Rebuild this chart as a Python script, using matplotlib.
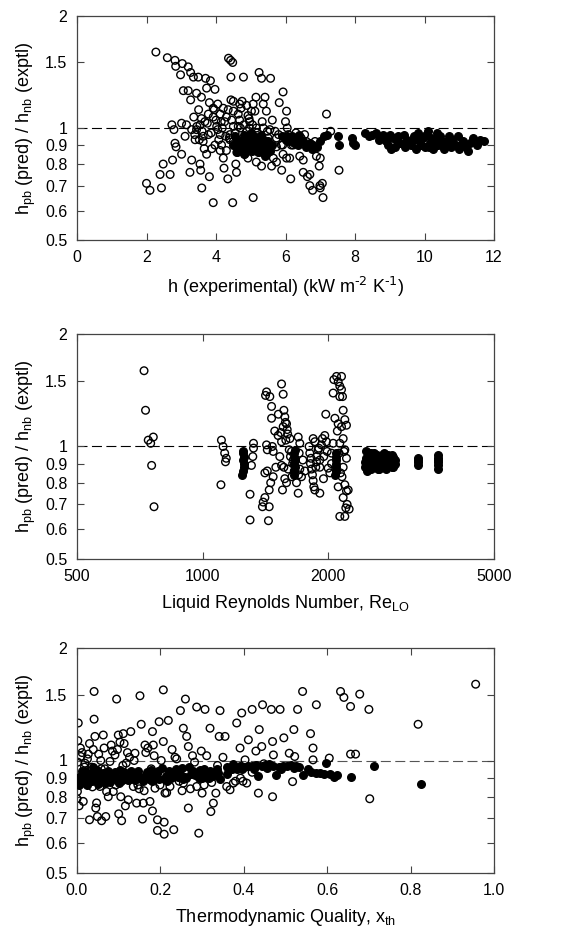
import matplotlib
matplotlib.use("Agg")
import matplotlib.pyplot as plt
from matplotlib.ticker import FixedLocator, FixedFormatter, NullLocator

plt.rcParams['font.family'] = ['Liberation Sans', 'DejaVu Sans']
plt.rcParams['mathtext.default'] = 'regular'

# ---------------- Panel 1: h (experimental) ----------------
p1_open_x = [2.27, 2.60, 2.82, 2.84, 3.03, 3.20, 3.27, 3.35, 3.49, 2.98, 3.70, 3.84, 3.73, 3.97,
             3.06, 3.20, 3.44, 3.58, 3.27, 3.81, 4.05, 3.50, 3.36, 3.58, 3.01, 2.73, 2.79, 3.11,
             3.39, 3.63, 2.82, 2.85, 3.01, 2.75, 2.48, 2.39, 2.68, 2.00, 2.10, 2.43, 3.30, 3.25,
             3.54, 3.56, 3.59, 3.73, 3.81, 3.92, 4.23, 4.34, 4.48, 4.57, 4.59, 4.36, 4.42, 4.48,
             4.43, 4.79, 4.43, 4.75, 5.24, 5.31, 5.57, 5.15, 5.41, 5.07, 5.36, 5.12, 5.45, 5.93,
             5.82, 6.03, 5.62, 6.00, 6.05, 6.08, 5.92, 6.17, 6.15, 6.51, 6.70, 6.63, 6.70, 6.78,
             6.99, 7.06, 7.00, 7.08, 6.97, 7.00, 6.89, 7.18, 7.30, 7.54, 5.07, 4.88, 4.02, 4.12,
             4.16, 4.12, 4.21, 3.97, 3.78, 3.92, 4.30, 4.50, 4.64, 4.68, 4.92, 4.97, 4.83, 4.92,
             5.16, 5.31, 5.60, 5.74, 5.89, 5.65, 5.93, 6.12, 6.41, 6.51, 6.41, 6.55, 4.50, 4.40,
             4.50, 3.63, 3.44, 3.54, 3.68, 3.78, 4.12, 3.92, 4.21, 4.35, 5.36, 5.55, 5.74, 5.74,
             5.45, 5.16, 5.07, 4.64, 4.30, 5.88, 6.03, 6.22, 4.64, 4.50, 4.88, 5.02, 4.68, 3.30,
             3.40, 3.88, 4.05, 4.25, 4.38, 4.60, 4.80, 5.00, 5.25, 5.50, 5.70, 4.95, 5.20, 3.15,
             3.45, 3.60, 3.75, 3.86, 4.00, 4.08, 4.18, 4.28, 4.45, 4.55, 4.70, 4.85, 5.05, 5.18,
             5.33, 5.48, 5.80, 6.30, 6.45, 6.60, 6.85, 3.52, 3.66, 3.95, 4.15, 4.40, 4.72, 4.96]
p1_open_y = [1.60, 1.545, 1.52, 1.465, 1.49, 1.46, 1.41, 1.37, 1.37, 1.39, 1.36, 1.34, 1.28, 1.27,
             1.26, 1.26, 1.24, 1.21, 1.19, 1.17, 1.16, 1.12, 1.07, 1.06, 1.03, 1.02, 0.99, 0.95,
             0.96, 0.95, 0.91, 0.89, 0.85, 0.82, 0.80, 0.75, 0.75, 0.71, 0.68, 0.69, 0.82, 0.76,
             0.80, 0.77, 0.69, 0.85, 0.74, 0.63, 0.78, 0.73, 0.63, 0.80, 0.76, 1.54, 1.52, 1.50,
             1.37, 1.37, 1.19, 1.18, 1.41, 1.36, 1.36, 1.21, 1.21, 1.16, 1.16, 1.11, 1.11, 1.25,
             1.17, 1.11, 1.05, 1.04, 1.00, 0.96, 0.90, 0.90, 0.73, 0.76, 0.75, 0.74, 0.70, 0.68,
             0.70, 0.71, 0.69, 0.65, 0.79, 0.83, 0.84, 1.09, 0.98, 0.77, 0.65, 0.98, 1.01, 0.96,
             0.90, 0.87, 0.83, 0.90, 0.96, 1.07, 1.07, 1.11, 1.09, 1.05, 1.08, 1.04, 0.85, 0.83,
             0.81, 0.79, 0.79, 0.81, 0.77, 0.83, 0.85, 0.83, 0.84, 0.82, 0.92, 0.96, 1.01, 0.96,
             0.92, 0.92, 0.99, 1.02, 1.04, 1.09, 1.09, 1.13, 1.13, 1.12, 1.00, 0.99, 0.94, 0.89,
             0.89, 1.00, 0.94, 0.89, 0.87, 0.90, 0.83, 0.90, 1.01, 1.18, 1.15, 1.11, 1.16, 0.99,
             0.93, 0.88, 0.99, 1.04, 0.94, 0.86, 1.02, 0.92, 0.86, 0.94, 0.98, 1.06, 0.87, 1.02,
             1.01, 0.98, 1.03, 0.97, 1.05, 0.93, 1.00, 0.95, 1.05, 0.97, 1.00, 0.95, 1.02, 0.97,
             1.04, 0.98, 0.96, 0.97, 0.94, 0.92, 0.92, 0.93, 0.88, 1.12, 1.04, 0.93, 1.13, 1.00]
p1_fill_x = [4.55, 4.60, 4.65, 4.70, 4.75, 4.80, 4.85, 4.90, 4.95, 5.00, 5.05, 5.10, 5.15, 5.20,
             5.25, 5.30, 5.35, 5.40, 5.45, 5.50, 5.55, 5.60, 4.50, 4.60, 4.80, 5.00, 5.30, 5.90,
             6.00, 6.10, 6.20, 6.30, 6.35, 6.40, 6.50, 6.70, 6.75, 6.80, 6.90, 7.00, 7.10, 7.20,
             7.50, 7.55, 7.90, 7.95, 8.00, 8.30, 8.40, 8.60, 8.70, 8.80, 8.90, 8.95, 9.00, 9.10,
             9.15, 9.20, 9.30, 9.40, 9.45, 9.50, 9.60, 9.70, 9.75, 9.80, 9.85, 9.90, 9.95, 10.00,
             10.05, 10.10, 10.15, 10.20, 10.25, 10.30, 10.40, 10.45, 10.50, 10.55, 10.60, 10.70,
             10.75, 10.80, 10.90, 10.95, 11.00, 11.10, 11.20, 11.25, 11.30, 11.40, 11.50, 11.60,
             11.70, 9.65, 10.35, 9.25, 8.50, 9.05, 5.40, 5.10, 4.70, 6.15, 6.60,
             4.88, 5.22, 5.38, 5.48, 4.58, 4.98, 6.05, 6.25, 9.55, 9.88, 10.12, 10.65, 11.05]
p1_fill_y = [0.95, 0.92, 0.90, 0.88, 0.93, 0.96, 0.91, 0.89, 0.94, 0.92, 0.87, 0.95, 0.90, 0.93,
             0.88, 0.91, 0.86, 0.89, 0.85, 0.92, 0.87, 0.90, 0.90, 0.86, 0.85, 0.97, 0.96, 0.95,
             0.93, 0.92, 0.95, 0.93, 0.90, 0.96, 0.92, 0.91, 0.88, 0.90, 0.89, 0.92, 0.95, 0.96,
             0.95, 0.90, 0.94, 0.91, 0.90, 0.97, 0.95, 0.97, 0.93, 0.96, 0.92, 0.90, 0.96, 0.94,
             0.89, 0.92, 0.91, 0.96, 0.89, 0.93, 0.90, 0.95, 0.88, 0.97, 0.92, 0.90, 0.94, 0.89,
             0.96, 0.98, 0.91, 0.94, 0.88, 0.93, 0.90, 0.95, 0.92, 0.88, 0.91, 0.95, 0.89, 0.93,
             0.90, 0.95, 0.88, 0.92, 0.89, 0.87, 0.91, 0.94, 0.90, 0.93, 0.92, 0.92, 0.97, 0.95,
             0.96, 0.88, 0.84, 0.88, 0.91, 0.94, 0.89,
             0.87, 0.86, 0.93, 0.88, 0.91, 0.90, 0.95, 0.91, 0.91, 0.93, 0.89, 0.92, 0.90]

# ---------------- Panel 2: Liquid Reynolds number ----------------
p2_open_x = [724, 730, 741, 751, 762, 755, 765, 1107, 1110, 1120, 1130, 1135, 1140, 1300, 1300,
             1310, 1320, 1325, 1325, 1416, 1424, 1450, 1464, 1464, 1424, 1430, 1477, 1411, 1457,
             1445, 1398, 1392, 1411, 1445, 1439, 1477, 1499, 1532, 1547, 1518, 1547, 1561, 1547,
             1561, 1567, 1575, 1590, 1596, 1584, 1567, 1575, 1555, 1590, 1605, 1614, 1620, 1635,
             1650, 1638, 1680, 1696, 1696, 1711, 1705, 1711, 1727, 1801, 1808, 1815, 1825, 1835,
             1842, 1849, 1859, 1842, 1893, 1911, 1911, 1911, 1928, 1939, 1953, 1964, 1982, 1990,
             2001, 2020, 1869, 1876, 2057, 2065, 2096, 2115, 2134, 2154, 2154, 2134, 2166, 2174,
             2077, 2115, 2154, 2194, 2214, 2174, 2134, 2194, 2214, 2174, 2142, 2115, 2134, 2194,
             2174, 2194, 2214, 2235, 2247, 2222, 2206, 2038, 2038, 2057, 1490, 1520, 1600, 1660,
             1740, 1760, 1880, 1950, 1430, 1470, 1540, 1580, 1625, 1645, 1700, 1820, 1860, 1900,
             1975, 2105, 2125, 2160, 2185]
p2_open_y = [1.595, 1.25, 1.04, 1.02, 1.06, 0.89, 0.69, 0.79, 1.04, 1.00, 0.96, 0.91, 0.93, 0.745,
             0.636, 0.89, 0.94, 0.99, 1.02, 1.37, 1.40, 1.36, 1.28, 1.19, 1.01, 0.98, 0.97, 0.85,
             0.80, 0.765, 0.71, 0.69, 0.73, 0.69, 0.633, 0.83, 0.88, 0.94, 0.89, 1.07, 1.03, 1.13,
             1.47, 1.38, 1.25, 1.20, 1.15, 1.11, 1.04, 0.88, 0.82, 0.765, 0.80, 0.87, 0.98, 1.05,
             0.97, 0.92, 0.83, 0.80, 0.75, 1.06, 1.02, 0.96, 0.87, 0.83, 1.00, 0.96, 0.90, 0.87,
             0.84, 0.81, 0.78, 0.765, 1.05, 0.98, 0.92, 0.88, 0.75, 1.01, 1.05, 0.94, 1.07, 1.03,
             0.97, 0.875, 0.85, 0.88, 0.91, 1.39, 1.51, 1.54, 1.49, 1.45, 1.54, 1.42, 1.36, 1.36,
             1.25, 1.19, 1.15, 1.13, 1.18, 1.14, 1.05, 1.02, 0.98, 0.93, 0.88, 0.85, 0.78, 0.65,
             0.65, 0.73, 0.79, 0.76, 0.765, 0.68, 0.70, 0.685, 0.96, 0.90, 1.02, 1.10, 1.22, 1.08,
             0.86, 0.92, 0.86, 0.94, 0.82, 0.86, 1.00, 1.09, 1.16, 0.94, 0.90, 0.84, 0.93, 1.03,
             0.99, 1.22, 1.10, 0.96, 0.83, 0.97]
p2_fill_x = [1245, 1250, 1255, 1260, 1250, 1255, 1248, 1252, 1655, 1660, 1665, 1658, 1662, 1656,
             1660, 1664, 2080, 2085, 2090, 2088, 2092, 2084, 2088,
             2450, 2470, 2490, 2510, 2530, 2550, 2570, 2590, 2610, 2630, 2650, 2670, 2690, 2710,
             2730, 2750, 2770, 2790, 2810, 2830, 2850, 2870, 2890, 2900, 2460, 2480, 2500, 2520,
             2540, 2560, 2580, 2600, 2620, 2640, 2660, 2680, 2700, 2720, 2740, 2760, 2780, 2800,
             2820, 2840, 2860, 2880, 2455, 2475, 2495, 2515, 2545, 2575, 2605, 2635, 2665, 2695,
             2725, 2755, 2785, 2815, 2845, 2875,
             3280, 3290, 3295, 3285, 3660, 3670, 3675, 3665, 3670, 3680]
p2_fill_y = [0.84, 0.86, 0.88, 0.90, 0.92, 0.94, 0.96, 0.97, 0.84, 0.86, 0.88, 0.90, 0.92, 0.94,
             0.96, 0.98, 0.84, 0.86, 0.88, 0.90, 0.92, 0.94, 0.96,
             0.88, 0.93, 0.90, 0.96, 0.87, 0.92, 0.95, 0.89, 0.94, 0.91, 0.87, 0.93, 0.90, 0.95,
             0.88, 0.92, 0.94, 0.89, 0.93, 0.91, 0.95, 0.88, 0.92, 0.90, 0.97, 0.86, 0.94, 0.91,
             0.96, 0.88, 0.93, 0.90, 0.95, 0.87, 0.92, 0.94, 0.89, 0.96, 0.91, 0.87, 0.95, 0.90,
             0.93, 0.88, 0.94, 0.91, 0.91, 0.89, 0.95, 0.88, 0.92, 0.96, 0.90, 0.93, 0.89, 0.95,
             0.92, 0.88, 0.94, 0.90, 0.93, 0.91,
             0.89, 0.91, 0.93, 0.92, 0.87, 0.89, 0.91, 0.93, 0.95, 0.92]

# ---------------- Panel 3: Thermodynamic quality ----------------
p3_open_x = [0.002, 0.002, 0.001, 0.000, 0.005, 0.003, 0.002, 0.003, 0.009, 0.015, 0.019, 0.025,
             0.030, 0.030, 0.035, 0.039, 0.041, 0.041, 0.043, 0.045, 0.047, 0.049, 0.055, 0.059,
             0.063, 0.065, 0.069, 0.071, 0.075, 0.079, 0.087, 0.091, 0.095, 0.097, 0.099, 0.100,
             0.105, 0.107, 0.111, 0.113, 0.116, 0.118, 0.123, 0.129, 0.135, 0.139, 0.143, 0.151,
             0.154, 0.157, 0.159, 0.161, 0.165, 0.175, 0.181, 0.183, 0.181, 0.187, 0.193, 0.193,
             0.197, 0.207, 0.207, 0.209, 0.209, 0.211, 0.219, 0.223, 0.232, 0.239, 0.248, 0.255,
             0.260, 0.255, 0.263, 0.267, 0.267, 0.277, 0.287, 0.287, 0.292, 0.300, 0.307, 0.311,
             0.319, 0.321, 0.323, 0.327, 0.333, 0.341, 0.343, 0.355, 0.359, 0.367, 0.375, 0.383,
             0.391, 0.392, 0.395, 0.403, 0.407, 0.411, 0.420, 0.429, 0.435, 0.437, 0.443, 0.445,
             0.466, 0.469, 0.469, 0.471, 0.487, 0.496, 0.509, 0.517, 0.520, 0.522, 0.529, 0.541,
             0.560, 0.566, 0.566, 0.574, 0.605, 0.632, 0.640, 0.656, 0.656, 0.668, 0.678, 0.700,
             0.702, 0.818, 0.956, 0.012, 0.022, 0.052, 0.058, 0.082, 0.110, 0.126, 0.146, 0.170,
             0.178, 0.202, 0.228, 0.245, 0.272, 0.298, 0.316, 0.350, 0.380, 0.420,
             0.008, 0.018, 0.027, 0.037, 0.057, 0.067, 0.085, 0.093, 0.103, 0.121, 0.131, 0.137,
             0.149, 0.163, 0.185, 0.199, 0.215, 0.235, 0.252, 0.282, 0.305, 0.337, 0.398, 0.448]
p3_open_y = [0.99, 0.875, 0.826, 0.79, 0.756, 0.90, 1.13, 1.26, 1.025, 0.777, 0.984, 1.01,
             1.11, 0.694, 0.96, 1.07, 1.29, 1.53, 1.16, 0.746, 0.77, 0.708, 0.852, 0.69,
             1.17, 1.08, 0.708, 0.826, 0.80, 0.994, 0.826, 1.035, 1.46, 1.07, 1.17, 0.72,
             0.80, 0.69, 1.18, 1.11, 0.756, 0.984, 0.785, 1.195, 0.852, 1.046, 0.769, 1.49,
             1.25, 0.697, 0.769, 0.83, 1.05, 0.777, 1.195, 1.10, 0.733, 0.843, 0.65, 0.694,
             1.27, 1.545, 1.124, 0.684, 0.635, 0.818, 1.28, 0.852, 0.653, 1.01, 1.36, 0.87,
             1.46, 1.22, 1.16, 0.746, 1.09, 1.03, 0.852, 1.39, 0.639, 0.818, 1.37, 1.03,
             1.22, 0.73, 0.873, 0.769, 0.818, 1.16, 1.36, 1.16, 0.852, 0.835, 0.87, 1.26,
             1.08, 0.897, 1.34, 1.004, 0.87, 1.136, 1.37, 1.06, 0.818, 1.21, 1.09, 1.41,
             1.37, 1.124, 0.80, 1.035, 1.37, 1.15, 1.046, 0.878, 1.21, 1.025, 1.37, 1.53,
             1.18, 1.08, 1.004, 1.41, 1.015, 1.53, 1.475, 1.395, 1.04, 1.04, 1.505, 1.37,
             0.79, 1.25, 1.60, 1.05, 0.92, 1.04, 0.95, 1.10, 0.97, 1.02, 0.86, 1.08,
             0.95, 1.00, 1.07, 0.88, 0.84, 1.06, 0.90, 1.02, 0.88, 0.93,
             1.08, 0.96, 1.04, 0.85, 1.00, 0.95, 1.06, 0.86, 1.12, 1.05, 0.92, 1.00,
             0.84, 1.10, 1.03, 0.86, 0.82, 1.02, 0.83, 0.99, 0.86, 0.97, 0.88, 0.98]
p3_fill_x = [0.001, 0.007, 0.015, 0.019, 0.025, 0.031, 0.038, 0.043, 0.047, 0.055, 0.063, 0.069,
             0.075, 0.083, 0.091, 0.097, 0.103, 0.109, 0.115, 0.123, 0.129, 0.135, 0.143, 0.151,
             0.159, 0.167, 0.177, 0.183, 0.191, 0.197, 0.205, 0.213, 0.221, 0.229, 0.237, 0.247,
             0.251, 0.259, 0.269, 0.279, 0.289, 0.296, 0.304, 0.312, 0.320, 0.331, 0.339, 0.344,
             0.359, 0.360, 0.367, 0.375, 0.384, 0.391, 0.400, 0.411, 0.419, 0.429, 0.435, 0.443,
             0.450, 0.461, 0.469, 0.477, 0.485, 0.494, 0.504, 0.514, 0.525, 0.533, 0.542, 0.554,
             0.562, 0.573, 0.582, 0.592, 0.598, 0.606, 0.616, 0.624, 0.656, 0.712, 0.826,
             0.004, 0.011, 0.020, 0.028, 0.035, 0.050, 0.060, 0.078, 0.088, 0.106, 0.120, 0.140,
             0.156, 0.172, 0.188, 0.210, 0.226, 0.242, 0.262, 0.284, 0.300, 0.326,
             0.003, 0.013, 0.023, 0.033, 0.041, 0.052, 0.066, 0.072, 0.080, 0.094, 0.100, 0.112,
             0.118, 0.132, 0.147, 0.162, 0.180, 0.195, 0.217, 0.233, 0.255, 0.274, 0.292, 0.316,
             0.335, 0.371, 0.395, 0.425, 0.455, 0.490, 0.520]
p3_fill_y = [0.874, 0.906, 0.888, 0.935, 0.87, 0.92, 0.96, 0.897, 0.944, 0.906, 0.925, 0.88,
             0.94, 0.906, 0.93, 0.888, 0.944, 0.906, 0.92, 0.888, 0.935, 0.91, 0.92, 0.897,
             0.88, 0.93, 0.944, 0.906, 0.925, 0.89, 0.953, 0.91, 0.935, 0.906, 0.948, 0.92,
             0.953, 0.906, 0.96, 0.935, 0.915, 0.944, 0.948, 0.92, 0.935, 0.92, 0.925, 0.89,
             0.96, 0.92, 0.953, 0.98, 0.948, 0.968, 0.96, 0.968, 0.964, 0.974, 0.91, 0.964,
             0.972, 0.98, 0.964, 0.915, 0.96, 0.968, 0.964, 0.972, 0.964, 0.96, 0.915, 0.948,
             0.93, 0.925, 0.925, 0.92, 0.984, 0.92, 0.906, 0.915, 0.906, 0.968, 0.866,
             0.86, 0.90, 0.87, 0.91, 0.88, 0.865, 0.89, 0.875, 0.90, 0.88, 0.895, 0.885,
             0.90, 0.89, 0.91, 0.895, 0.90, 0.905, 0.90, 0.915, 0.90, 0.91,
             0.90, 0.94, 0.86, 0.89, 0.93, 0.88, 0.87, 0.92, 0.89, 0.90, 0.87, 0.93,
             0.89, 0.90, 0.94, 0.91, 0.88, 0.94, 0.88, 0.93, 0.89, 0.92, 0.90, 0.90,
             0.95, 0.95, 0.95, 0.95, 0.955, 0.95, 0.955]

y_ticks = [0.5, 0.6, 0.7, 0.8, 0.9, 1, 1.5, 2]
y_tick_labels = ['0.5', '0.6', '0.7', '0.8', '0.9', '1', '1.5', '2']
ylabel = r'h$_{pb}$ (pred) / h$_{nb}$ (exptl)'

fig = plt.figure(figsize=(5.74, 9.33), dpi=100)
W = 574.0
H = 933.0
panels = [
    (16, 240, p1_open_x, p1_open_y, p1_fill_x, p1_fill_y, 'lin1'),
    (334, 559, p2_open_x, p2_open_y, p2_fill_x, p2_fill_y, 'log'),
    (648, 873, p3_open_x, p3_open_y, p3_fill_x, p3_fill_y, 'lin2'),
]
spine_col = '#444444'
for top, bot, ox, oy, fx, fy, kind in panels:
    ax = fig.add_axes([77 / W, 1 - bot / H, (494 - 77) / W, (bot - top) / H])
    ax.set_yscale('log')
    ax.set_ylim(0.5, 2)
    ax.yaxis.set_major_locator(FixedLocator(y_ticks))
    ax.yaxis.set_major_formatter(FixedFormatter(y_tick_labels))
    ax.yaxis.set_minor_locator(NullLocator())
    if kind == 'lin1':
        ax.set_xlim(0, 12)
        ax.set_xticks([0, 2, 4, 6, 8, 10, 12])
        ax.set_xlabel(r'h (experimental) (kW m$^{\text{-2}}$ K$^{\text{-1}}$)', fontsize=13, labelpad=7)
    elif kind == 'log':
        ax.set_xscale('log')
        ax.set_xlim(500, 5000)
        ax.xaxis.set_major_locator(FixedLocator([500, 1000, 2000, 5000]))
        ax.xaxis.set_major_formatter(FixedFormatter(['500', '1000', '2000', '5000']))
        ax.xaxis.set_minor_locator(NullLocator())
        ax.set_xlabel(r'Liquid Reynolds Number, Re$_{LO}$', fontsize=13, labelpad=7)
    else:
        ax.set_xlim(0, 1.0)
        ax.set_xticks([0.0, 0.2, 0.4, 0.6, 0.8, 1.0])
        ax.set_xticklabels(['0.0', '0.2', '0.4', '0.6', '0.8', '1.0'])
        ax.set_xlabel(r'Thermodynamic Quality, x$_{th}$', fontsize=13, labelpad=7)
    ax.set_ylabel(ylabel, fontsize=13, labelpad=5)
    dash_col = 'black' if kind != 'lin2' else '#555555'
    ax.axhline(1.0, color=dash_col, lw=0.8, dashes=(9, 4), zorder=1)
    ax.scatter(ox, oy, s=30, facecolors='none', edgecolors='black', linewidths=1.0, zorder=2)
    ax.scatter(fx, fy, s=30, facecolors='black', edgecolors='black', linewidths=1.0, zorder=3)
    ax.tick_params(direction='in', top=True, right=True, length=5, width=0.8,
                   labelsize=11.5, pad=7, color=spine_col)
    for sp in ax.spines.values():
        sp.set_color(spine_col)
        sp.set_linewidth(0.9)

fig.savefig('out.png', dpi=100)
